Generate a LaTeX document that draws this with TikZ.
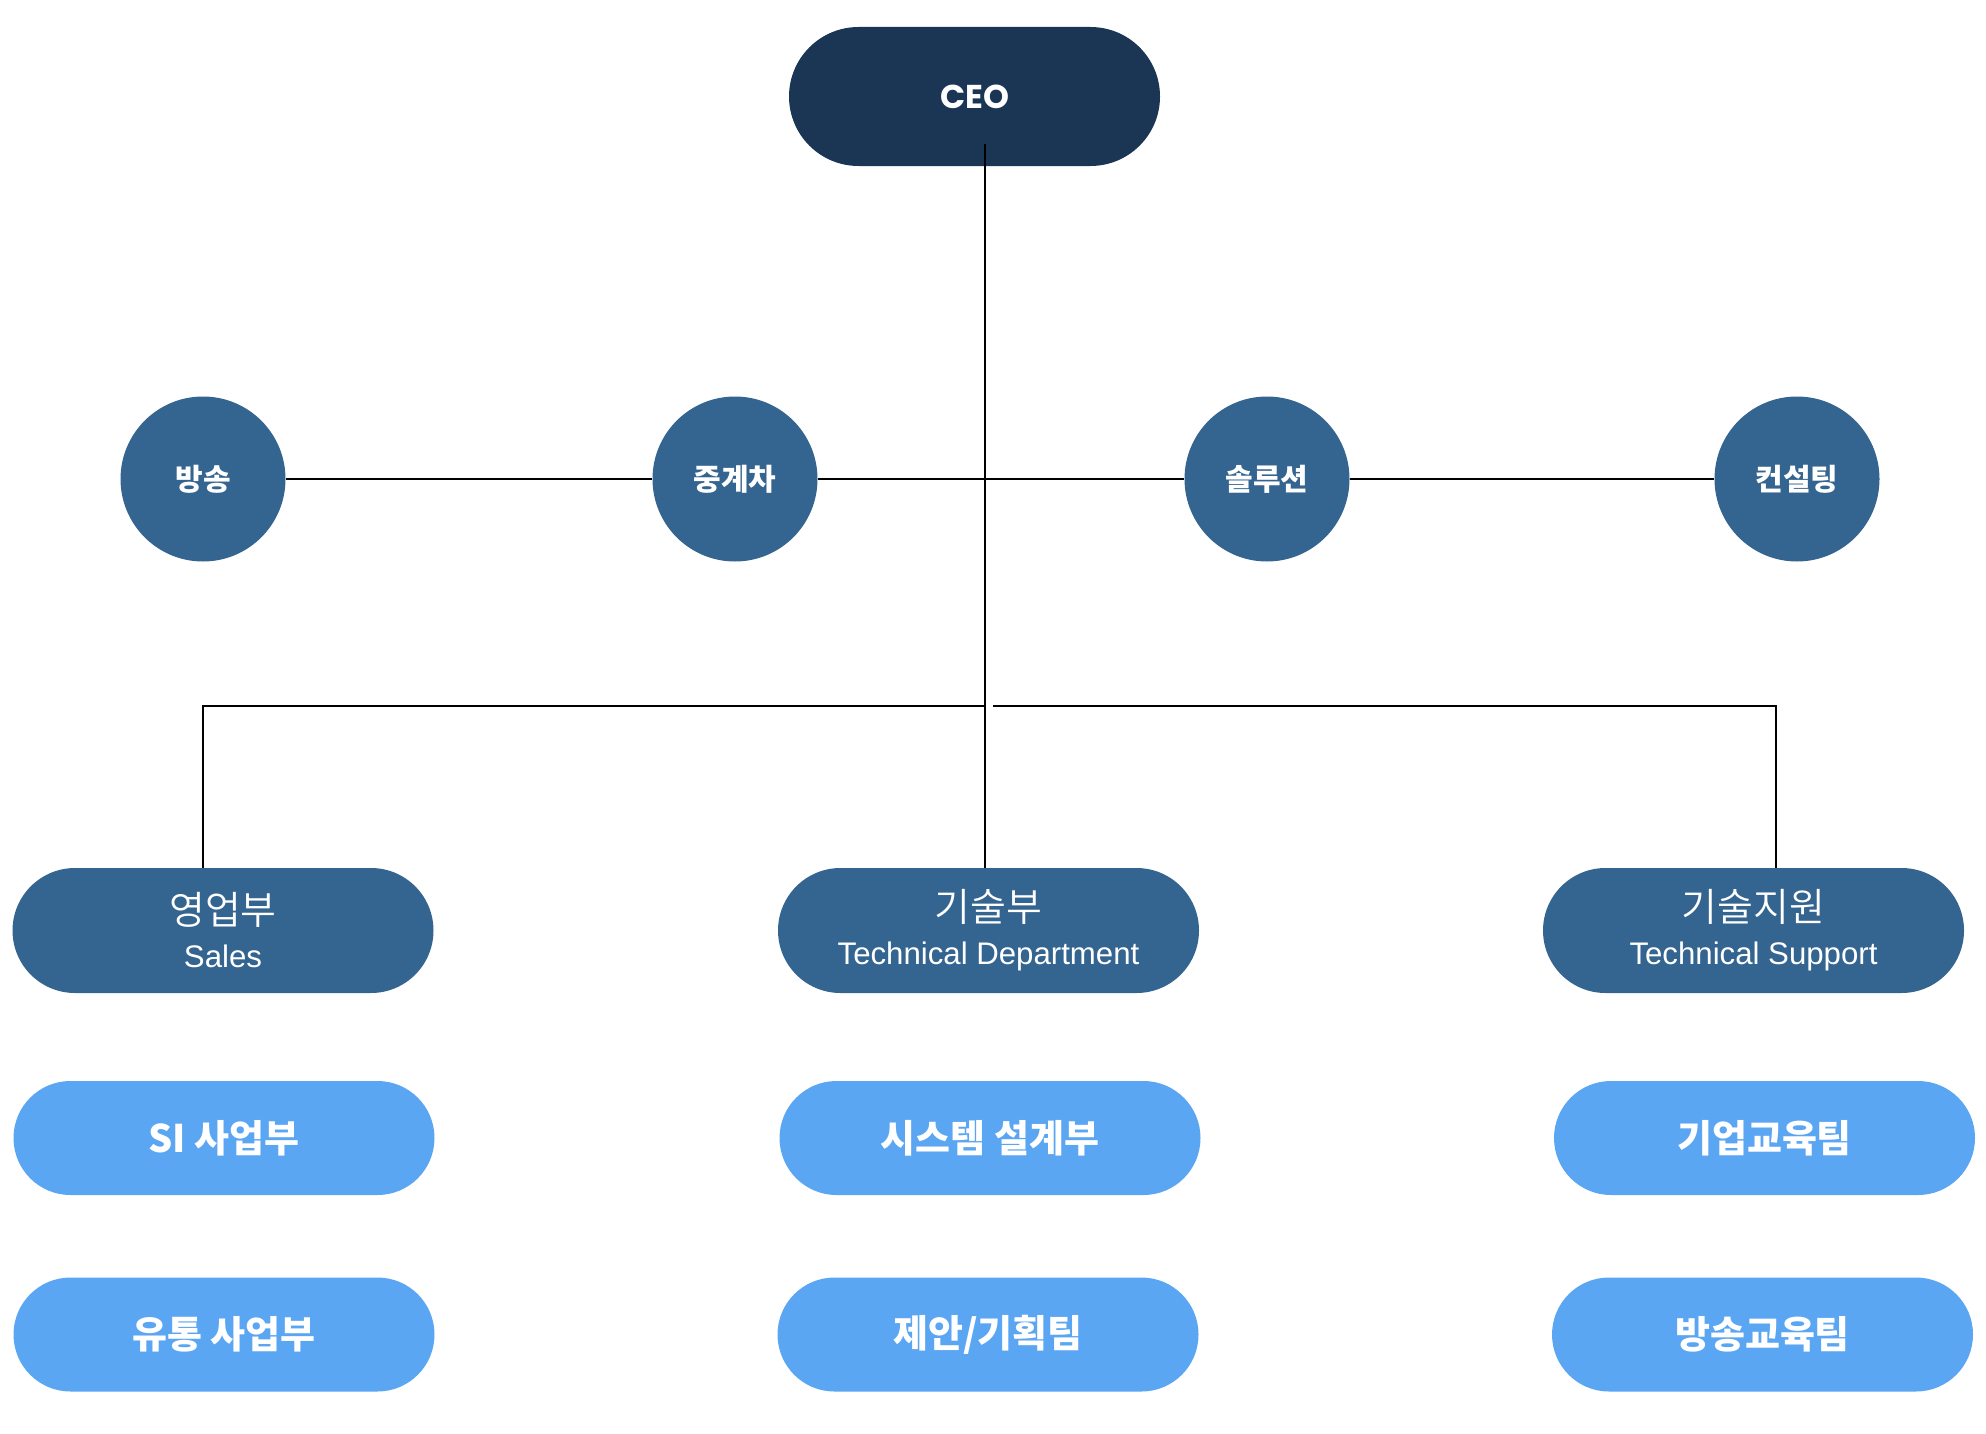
\documentclass[tikz,border=0pt]{standalone}
\usepackage{fontspec}
\setmainfont{Liberation Sans}
\newfontfamily\krfont{Noto Sans CJK KR}
\newfontfamily\krlight{Noto Sans CJK KR}[UprightFont=* DemiLight]
\newfontfamily\ceofont{Poppins}
\definecolor{ceoblue}{HTML}{1B3655}
\definecolor{midblue}{HTML}{346490}
\definecolor{teamblue}{HTML}{5BA6F3}
\newcommand{\enline}{\normalfont\fontsize{15.6}{22.5}\selectfont}

\tikzset{
  ceobox/.style={rectangle, rounded corners=34.75pt, fill=ceoblue, text=white,
    minimum width=185.5pt, minimum height=69.5pt, inner sep=0pt,
    font=\ceofont\bfseries\fontsize{16.5}{20}\selectfont},
  unitdot/.style={circle, fill=midblue, text=white, minimum size=82.5pt, inner sep=0pt,
    font=\krfont\bfseries\fontsize{15}{18}\selectfont},
  deptbox/.style={rectangle, rounded corners=31.25pt, fill=midblue, text=white,
    minimum width=210.5pt, minimum height=62.5pt, inner sep=0pt, align=center,
    font=\krlight\fontsize{19.5}{22.5}\selectfont},
  teambox/.style={rectangle, rounded corners=28.5pt, fill=teamblue, text=white,
    minimum width=210.5pt, minimum height=57pt, inner sep=0pt,
    font=\krfont\bfseries\fontsize{19}{23}\selectfont},
  link/.style={draw=black, line width=1pt}
}

\begin{document}
\begin{tikzpicture}[x=0.5pt,y=-0.5pt]
\useasboundingbox (0,0) rectangle (1986,1434);

% top
\node[ceobox] (ceo) at (974.5,96.5) {CEO};

% business units
\node[unitdot] (bs) at (203,479) {방송};
\node[unitdot] (jc) at (735,479) {중계차};
\node[unitdot] (sl) at (1267,479) {솔루션};
\node[unitdot] (cs) at (1797,479) {컨설팅};

% departments
\node[deptbox] (sales) at (223,930.5) {\raisebox{-2pt}{영업부}\\\enline\raisebox{-1pt}{Sales}};
\node[deptbox] (tech) at (988.5,930.5) {\raisebox{-2pt}{기술부}\\\enline\raisebox{-1pt}{Technical Department}};
\node[deptbox] (support) at (1753.5,930.5) {\raisebox{-2pt}{기술지원}\\\enline\raisebox{-1pt}{Technical Support}};

% teams
\node[teambox] (si) at (224,1138) {SI 사업부};
\node[teambox] (dist) at (224,1334.5) {유통 사업부};
\node[teambox] (sys) at (990,1138) {시스템 설계부};
\node[teambox] (plan) at (988,1334.5) {제안/기획팀};
\node[teambox] (corp) at (1764.5,1138) {기업교육팀};
\node[teambox] (bcast) at (1762.5,1334.5) {방송교육팀};

% connectors
\coordinate (ceotap) at (985,144);
\coordinate (hub) at (985,706);
\draw[link] (bs) -- (jc);
\draw[link] (jc) -- (sl);
\draw[link] (sl) -- (cs);
\draw[link] (ceotap) -- (ceotap |- tech.north);
\draw[link] (hub) -| ([xshift=-10pt]sales.north);
\draw[link] ([xshift=4pt]hub) -| ([xshift=11.25pt]support.north);
\end{tikzpicture}
\end{document}
